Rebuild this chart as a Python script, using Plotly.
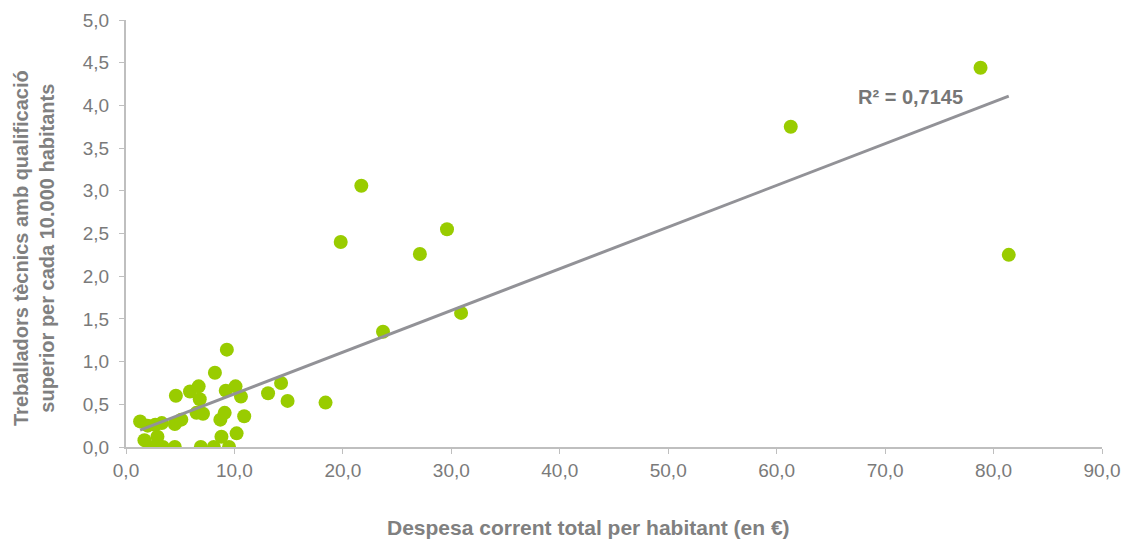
import numpy as np
import plotly.graph_objects as go

despesa = [1.3, 1.7, 2.0, 2.2, 2.7, 2.9, 2.9, 3.3, 3.4, 4.5, 4.5, 4.6, 5.1, 5.9, 6.5,
           6.7, 6.8, 6.9, 7.1, 8.1, 8.2, 8.7, 8.8, 9.1, 9.2, 9.3, 9.5, 10.1, 10.2,
           10.6, 10.9, 13.1, 14.3, 14.9, 18.4, 19.8, 21.7, 23.7, 27.1, 29.6, 30.9,
           61.3, 78.8, 81.4]
treballadors = [0.30, 0.08, 0.25, 0.0, 0.26, 0.12, 0.0, 0.28, 0.0, 0.27, 0.0, 0.60, 0.32,
                0.65, 0.40, 0.71, 0.56, 0.0, 0.39, 0.0, 0.87, 0.32, 0.12, 0.40, 0.66,
                1.14, 0.0, 0.71, 0.16, 0.59, 0.36, 0.63, 0.75, 0.54, 0.52, 2.40, 3.06,
                1.35, 2.26, 2.55, 1.57, 3.75, 4.44, 2.25]
r2_label = "R² = 0,7145"
x_title = "Despesa corrent total per habitant (en €)"
y_title = "Treballadors tècnics amb qualificació<br>superior per cada 10.000 habitants"
x_ticks = [0, 10, 20, 30, 40, 50, 60, 70, 80, 90]
y_ticks = [0, 0.5, 1, 1.5, 2, 2.5, 3, 3.5, 4, 4.5, 5]

x = np.array(despesa)
y = np.array(treballadors)
slope, intercept = np.polyfit(x, y, 1)
xl = np.array([x.min(), x.max()])
yl = slope * xl + intercept

fnt = "Liberation Sans, Arial, sans-serif"
title_col = "#808080"
tick_col = "#7a7a7a"
axis_col = "#bfbfbf"

W, H = 1128, 541
L, R, T, B = 126, 26, 20, 94
pw, ph = W - L - R, H - T - B

fig = go.Figure()
fig.add_trace(go.Scatter(x=despesa, y=treballadors, mode="markers",
                         marker=dict(color="#99cc00", size=14, line=dict(width=0)),
                         showlegend=False, hoverinfo="x+y"))
fig.add_trace(go.Scatter(x=xl, y=yl, mode="lines",
                         line=dict(color="#929297", width=3), showlegend=False))

fig.add_annotation(x=77.4, y=4.10, xref="x", yref="y", text="<b>" + r2_label + "</b>",
                   showarrow=False, xanchor="right", yanchor="middle",
                   font=dict(family=fnt, size=20, color="#767676"))

# axis titles
fig.add_annotation(x=(588 - L) / pw, y=(H - B - 527) / ph, xref="paper", yref="paper",
                   text="<b>" + x_title + "</b>", showarrow=False,
                   xanchor="center", yanchor="middle",
                   font=dict(family=fnt, size=21, color=title_col))
fig.add_annotation(x=(34 - L) / pw, y=(H - B - 248) / ph, xref="paper", yref="paper",
                   text="<b>" + y_title + "</b>", showarrow=False, textangle=-90,
                   xanchor="center", yanchor="middle",
                   font=dict(family=fnt, size=20, color=title_col))

fig.update_xaxes(range=[0, 90], tickvals=x_ticks,
                 ticktext=[f"{v:.1f}".replace(".", ",") for v in x_ticks],
                 showgrid=False, zeroline=False, showline=True, linecolor=axis_col,
                 linewidth=2, ticks="outside", tickcolor=axis_col, ticklen=5,
                 tickfont=dict(family=fnt, size=19, color=tick_col), automargin=False)
fig.update_yaxes(range=[0, 5], tickvals=y_ticks,
                 ticktext=[f"{v:.1f}".replace(".", ",") for v in y_ticks],
                 showgrid=False, zeroline=False, showline=True, linecolor=axis_col,
                 linewidth=2, ticks="outside", tickcolor=axis_col, ticklen=5,
                 ticklabelstandoff=6,
                 tickfont=dict(family=fnt, size=19, color=tick_col), automargin=False)

fig.update_layout(width=W, height=H, plot_bgcolor="white", paper_bgcolor="white",
                  margin=dict(l=L, r=R, t=T, b=B, autoexpand=False))
fig.write_html("out.html", config={"displayModeBar": False},
               post_script="document.body.style.margin='0';document.body.style.overflow='hidden';")
